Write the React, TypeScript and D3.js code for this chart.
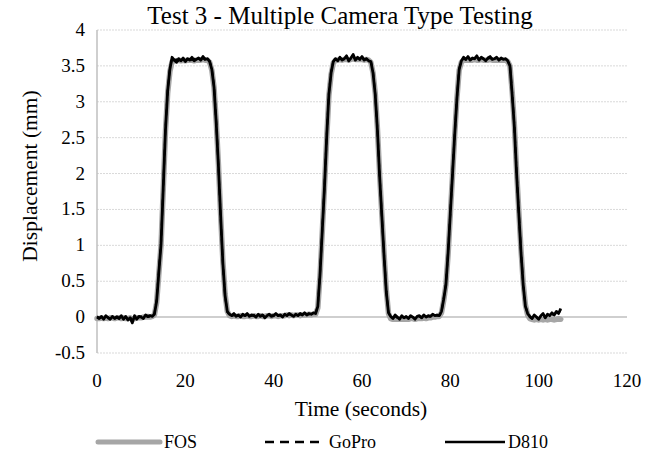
import React from "react";
import * as d3 from "d3";

const title = "Test 3 - Multiple Camera Type Testing";
const xLabel = "Time (seconds)";
const yLabel = "Displacement (mm)";
const xTicks = [0, 20, 40, 60, 80, 100, 120];
const yTicks = [-0.5, 0, 0.5, 1, 1.5, 2, 2.5, 3, 3.5, 4];
const seriesNames = ["FOS", "GoPro", "D810"];

const time = [
  0, 0.5, 1, 1.5, 2, 2.5, 3, 3.5, 4, 4.5,
  5, 5.5, 6, 6.5, 7, 7.5, 8, 8.5, 9, 9.5,
  10, 10.5, 11, 11.5, 12, 12.5, 13, 13.5, 14, 14.5,
  15, 15.5, 16, 16.5, 17, 17.5, 18, 18.5, 19, 19.5,
  20, 20.5, 21, 21.5, 22, 22.5, 23, 23.5, 24, 24.5,
  25, 25.5, 26, 26.5, 27, 27.5, 28, 28.5, 29, 29.5,
  30, 30.5, 31, 31.5, 32, 32.5, 33, 33.5, 34, 34.5,
  35, 35.5, 36, 36.5, 37, 37.5, 38, 38.5, 39, 39.5,
  40, 40.5, 41, 41.5, 42, 42.5, 43, 43.5, 44, 44.5,
  45, 45.5, 46, 46.5, 47, 47.5, 48, 48.5, 49, 49.5,
  50, 50.5, 51, 51.5, 52, 52.5, 53, 53.5, 54, 54.5,
  55, 55.5, 56, 56.5, 57, 57.5, 58, 58.5, 59, 59.5,
  60, 60.5, 61, 61.5, 62, 62.5, 63, 63.5, 64, 64.5,
  65, 65.5, 66, 66.5, 67, 67.5, 68, 68.5, 69, 69.5,
  70, 70.5, 71, 71.5, 72, 72.5, 73, 73.5, 74, 74.5,
  75, 75.5, 76, 76.5, 77, 77.5, 78, 78.5, 79, 79.5,
  80, 80.5, 81, 81.5, 82, 82.5, 83, 83.5, 84, 84.5,
  85, 85.5, 86, 86.5, 87, 87.5, 88, 88.5, 89, 89.5,
  90, 90.5, 91, 91.5, 92, 92.5, 93, 93.5, 94, 94.5,
  95, 95.5, 96, 96.5, 97, 97.5, 98, 98.5, 99, 99.5,
  100, 100.5, 101, 101.5, 102, 102.5, 103, 103.5, 104, 104.5,
  105,
];

const fos = [
  -0.02, -0.02, -0.01, -0.02, -0.01, -0.02, -0.01, -0.01, -0.02, -0.01,
  -0.01, -0.02, -0.01, -0.02, -0.02, -0.01, -0.03, -0.02, -0.01, -0.01,
  -0.01, 0.0, 0.0, 0.01, 0.0, 0.01, 0.03, 0.2, 0.6, 1.0,
  1.78, 2.58, 3.12, 3.42, 3.56, 3.57, 3.57, 3.58, 3.57, 3.58,
  3.57, 3.58, 3.58, 3.58, 3.57, 3.58, 3.58, 3.58, 3.59, 3.58,
  3.58, 3.55, 3.44, 3.2, 2.72, 2.12, 1.42, 0.78, 0.32, 0.08,
  0.02, 0.01, 0.02, 0.01, 0.01, 0.02, 0.01, 0.01, 0.02, 0.01,
  0.01, 0.02, 0.01, 0.01, 0.02, 0.01, 0.01, 0.02, 0.02, 0.01,
  0.02, 0.02, 0.01, 0.02, 0.02, 0.02, 0.03, 0.02, 0.03, 0.02,
  0.03, 0.03, 0.02, 0.03, 0.03, 0.03, 0.04, 0.03, 0.04, 0.04,
  0.13, 0.58, 1.18, 1.8, 2.48, 3.08, 3.38, 3.54, 3.58, 3.58,
  3.59, 3.58, 3.59, 3.59, 3.58, 3.59, 3.6, 3.59, 3.59, 3.59,
  3.59, 3.58, 3.59, 3.58, 3.55, 3.4, 3.12, 2.62, 1.98, 1.42,
  0.88, 0.38, 0.05, -0.02, -0.03, -0.02, -0.03, -0.03, -0.02, -0.03,
  -0.02, -0.03, -0.02, -0.02, -0.03, -0.02, -0.02, -0.02, -0.01, -0.02,
  -0.01, -0.01, 0.0, 0.0, 0.01, 0.01, 0.06, 0.23, 0.45, 0.88,
  1.43, 1.98, 2.55, 3.05, 3.44, 3.55, 3.58, 3.58, 3.58, 3.58,
  3.58, 3.59, 3.58, 3.58, 3.59, 3.58, 3.58, 3.58, 3.59, 3.58,
  3.58, 3.58, 3.58, 3.58, 3.58, 3.58, 3.56, 3.5, 3.14, 2.68,
  2.04, 1.48, 0.94, 0.48, 0.17, 0.03, -0.02, -0.03, -0.04, -0.03,
  -0.04, -0.03, -0.04, -0.03, -0.04, -0.03, -0.03, -0.04, -0.03, -0.02,
  -0.03,
];

const gopro = [
  0.01, -0.01, 0.0, -0.02, 0.01, 0.0, -0.02, 0.0, -0.01, 0.01,
  -0.01, 0.01, -0.02, 0.0, -0.02, 0.0, -0.05, 0.0, -0.02, 0.0,
  0.01, -0.01, 0.02, 0.0, 0.01, 0.02, 0.05, 0.24, 0.64, 1.04,
  1.82, 2.62, 3.16, 3.46, 3.6, 3.57, 3.59, 3.57, 3.6, 3.58,
  3.58, 3.59, 3.6, 3.58, 3.6, 3.58, 3.59, 3.6, 3.61, 3.58,
  3.59, 3.57, 3.46, 3.22, 2.72, 2.1, 1.38, 0.74, 0.29, 0.07,
  0.03, 0.01, 0.03, 0.02, 0.02, 0.01, 0.03, 0.02, 0.03, 0.01,
  0.02, 0.03, 0.01, 0.03, 0.02, 0.02, 0.0, 0.03, 0.03, 0.02,
  0.03, 0.04, 0.02, 0.03, 0.01, 0.03, 0.03, 0.04, 0.03, 0.02,
  0.03, 0.03, 0.04, 0.03, 0.05, 0.04, 0.04, 0.05, 0.05, 0.05,
  0.16, 0.62, 1.22, 1.82, 2.52, 3.12, 3.42, 3.56, 3.6, 3.58,
  3.6, 3.59, 3.6, 3.62, 3.58, 3.6, 3.63, 3.59, 3.61, 3.6,
  3.61, 3.59, 3.6, 3.58, 3.57, 3.42, 3.1, 2.6, 1.96, 1.4,
  0.86, 0.36, 0.07, 0.0, -0.02, 0.01, -0.01, -0.02, 0.01, -0.01,
  0.0, -0.01, 0.01, 0.0, -0.02, 0.0, 0.01, -0.01, 0.02, 0.0,
  0.01, 0.01, 0.03, 0.02, 0.02, 0.02, 0.07, 0.26, 0.47, 0.92,
  1.46, 2.02, 2.56, 3.06, 3.46, 3.57, 3.6, 3.59, 3.61, 3.59,
  3.6, 3.6, 3.62, 3.59, 3.61, 3.6, 3.58, 3.6, 3.61, 3.59,
  3.6, 3.61, 3.59, 3.6, 3.59, 3.6, 3.57, 3.51, 3.12, 2.66,
  2.02, 1.46, 0.92, 0.46, 0.16, 0.05, 0.0, -0.02, 0.02, 0.0,
  -0.02, 0.01, 0.03, -0.01, 0.03, 0.02, 0.04, 0.03, 0.06, 0.05,
  0.1,
];

const d810 = [
  0.0, -0.02, 0.01, -0.03, 0.02, -0.01, -0.03, 0.01, -0.02, 0.0,
  -0.02, 0.02, -0.03, 0.01, -0.04, -0.01, -0.08, 0.02, -0.03, 0.01,
  0.0, -0.02, 0.03, 0.01, 0.02, 0.01, 0.04, 0.22, 0.62, 1.02,
  1.8, 2.6, 3.15, 3.45, 3.62, 3.58, 3.55, 3.6, 3.57, 3.61,
  3.56, 3.6, 3.58, 3.62, 3.57, 3.59, 3.61, 3.58, 3.63, 3.59,
  3.6, 3.56, 3.45, 3.2, 2.7, 2.1, 1.4, 0.75, 0.3, 0.08,
  0.04, 0.02, 0.05, 0.01, 0.03, 0.0, 0.04, 0.02, 0.05, 0.01,
  0.03, 0.02, 0.0, 0.04, 0.01, 0.03, -0.01, 0.02, 0.04, 0.01,
  0.02, 0.05, 0.02, 0.03, 0.0, 0.04, 0.02, 0.05, 0.03, 0.01,
  0.04, 0.02, 0.05, 0.03, 0.06, 0.03, 0.05, 0.04, 0.06, 0.05,
  0.15, 0.6, 1.2, 1.8, 2.5, 3.1, 3.4, 3.56, 3.6, 3.57,
  3.62, 3.58, 3.6, 3.64, 3.57, 3.61, 3.66, 3.58, 3.62, 3.59,
  3.63, 3.58, 3.6, 3.57, 3.56, 3.4, 3.1, 2.6, 1.95, 1.4,
  0.85, 0.35, 0.06, 0.01, -0.02, 0.03, 0.0, -0.03, 0.02, -0.01,
  0.01, -0.02, 0.02, 0.0, -0.03, 0.01, 0.02, -0.01, 0.03, 0.0,
  0.02, 0.01, 0.04, 0.02, 0.03, 0.02, 0.08, 0.25, 0.45, 0.9,
  1.45, 2.0, 2.55, 3.05, 3.45, 3.57, 3.62, 3.59, 3.63, 3.58,
  3.61, 3.6, 3.64, 3.58, 3.62, 3.6, 3.57, 3.61, 3.63, 3.59,
  3.6, 3.62, 3.58, 3.61, 3.59, 3.6, 3.57, 3.5, 3.1, 2.65,
  2.0, 1.45, 0.9, 0.45, 0.15, 0.05, 0.01, -0.02, 0.03, 0.0,
  -0.03, 0.02, 0.05, -0.01, 0.04, 0.02, 0.06, 0.03, 0.08, 0.05,
  0.12,
];

const W = 654;
const H = 459;
const FONT = "'Liberation Serif', 'Times New Roman', serif";

export default function App() {
  const x = d3.scaleLinear().domain([0, 120]).range([97, 627]);
  const y = d3.scaleLinear().domain([-0.5, 4]).range([353, 30]);
  const line = d3
    .line<number>()
    .x((_, i) => x(time[i]))
    .y((d) => y(d));

  const series = [
    { name: seriesNames[0], values: fos, stroke: "#a6a6a6", width: 5.5, dash: undefined as string | undefined, legendDash: undefined as string | undefined, legendWidth: 5 },
    { name: seriesNames[1], values: gopro, stroke: "#000", width: 2, dash: "6,4", legendDash: "9,6", legendWidth: 2.5 },
    { name: seriesNames[2], values: d810, stroke: "#000", width: 2.8, dash: undefined, legendDash: undefined, legendWidth: 2.5 },
  ];

  const legendItems = [
    { x1: 98, x2: 160, tx: 164 },
    { x1: 265, x2: 320, tx: 329 },
    { x1: 445, x2: 505, tx: 508 },
  ];

  return (
    <svg
      width={W}
      height={H}
      style={{ position: "absolute", left: 0, top: 0, background: "#fff", fontFamily: FONT }}
    >
      <rect x={0} y={0} width={W} height={H} fill="#fff" />
      <text x={340} y={24} textAnchor="middle" fontSize={25} fill="#000">
        {title}
      </text>
      {yTicks.map((t) => (
        <line
          key={"g" + t}
          x1={x(0)}
          x2={x(120)}
          y1={y(t)}
          y2={y(t)}
          stroke={t === 0 ? "#bfbfbf" : "#d9d9d9"}
          strokeWidth={t === 0 ? 1.5 : 1}
          strokeDasharray={t === 0 ? undefined : "2,1"}
        />
      ))}
      <line x1={x(0)} x2={x(0)} y1={y(-0.5)} y2={y(4)} stroke="#bfbfbf" strokeWidth={1.5} />
      {yTicks.map((t) => (
        <text key={"yt" + t} x={85} y={y(t) + 6} textAnchor="end" fontSize={19} fill="#000">
          {t}
        </text>
      ))}
      {xTicks.map((t) => (
        <text key={"xt" + t} x={x(t)} y={387} textAnchor="middle" fontSize={19} fill="#000">
          {t}
        </text>
      ))}
      <text x={361} y={416} textAnchor="middle" fontSize={21.5} fill="#000">
        {xLabel}
      </text>
      <text
        transform={`translate(37, 176) rotate(-90)`}
        textAnchor="middle"
        fontSize={21.5}
        fill="#000"
      >
        {yLabel}
      </text>
      {series.map((s) => (
        <path
          key={s.name}
          d={line(s.values) || ""}
          fill="none"
          stroke={s.stroke}
          strokeWidth={s.width}
          strokeDasharray={s.dash}
          strokeLinejoin="round"
          strokeLinecap={s.name === "FOS" ? "round" : "butt"}
        />
      ))}
      {series.map((s, i) => (
        <g key={"lg" + s.name}>
          <line
            x1={legendItems[i].x1}
            x2={legendItems[i].x2}
            y1={442}
            y2={442}
            stroke={s.stroke}
            strokeWidth={s.legendWidth}
            strokeDasharray={s.legendDash}
            strokeLinecap={s.name === "FOS" ? "round" : "butt"}
          />
          <text x={legendItems[i].tx} y={448} fontSize={18} fill="#000">
            {s.name}
          </text>
        </g>
      ))}
    </svg>
  );
}
